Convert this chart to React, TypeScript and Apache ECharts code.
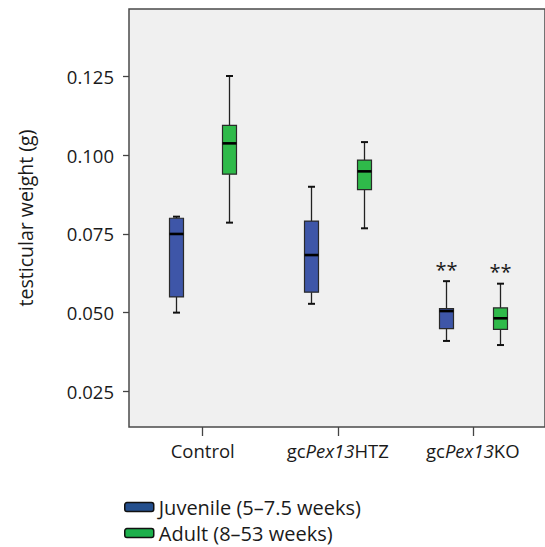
import React, { useEffect, useRef } from 'react';
import * as echarts from 'echarts';

const categories = ['Control', 'gcPex13HTZ', 'gcPex13KO'];
const seriesNames = ['Juvenile (5–7.5 weeks)', 'Adult (8–53 weeks)'];
// [min, Q1, median, Q3, max]
const juvenile = [
  [0.05, 0.055, 0.075, 0.08, 0.0805],
  [0.0528, 0.0565, 0.0683, 0.0791, 0.09],
  [0.041, 0.0449, 0.0505, 0.0513, 0.06],
];
const adult = [
  [0.0786, 0.094, 0.1038, 0.1095, 0.1252],
  [0.0768, 0.0891, 0.0949, 0.0985, 0.1042],
  [0.0397, 0.0447, 0.0482, 0.0515, 0.0592],
];
const juvenileSignificance = ['', '', '**'];
const adultSignificance = ['', '', '**'];
const yTicks = [0.025, 0.05, 0.075, 0.1, 0.125];
const xTicks = [0, 1, 2];

const FONT = '"Open Sans", "Noto Sans", sans-serif';
const TEXT = '#1a1a1a';

function makeRender(offset: number, fill: string, sig: string[]) {
  return (params: any, api: any) => {
    const idx = api.value(0);
    const x = idx + offset;
    const pMin = api.coord([x, api.value(1)]);
    const pQ1 = api.coord([x, api.value(2)]);
    const pMed = api.coord([x, api.value(3)]);
    const pQ3 = api.coord([x, api.value(4)]);
    const pMax = api.coord([x, api.value(5)]);
    const cx = Math.round(pMin[0]) + 0.5;
    const bw = 14;
    const cap = 3.5;
    const wStyle = { stroke: '#222', lineWidth: 1.3 };
    const capStyle = { stroke: '#111', lineWidth: 2 };
    const children: any[] = [
      { type: 'line', shape: { x1: cx, y1: pMax[1], x2: cx, y2: pQ3[1] }, style: wStyle },
      { type: 'line', shape: { x1: cx, y1: pQ1[1], x2: cx, y2: pMin[1] }, style: wStyle },
      { type: 'line', shape: { x1: cx - cap, y1: pMax[1], x2: cx + cap, y2: pMax[1] }, style: capStyle },
      { type: 'line', shape: { x1: cx - cap, y1: pMin[1], x2: cx + cap, y2: pMin[1] }, style: capStyle },
      {
        type: 'rect',
        shape: { x: cx - bw / 2, y: pQ3[1], width: bw, height: pQ1[1] - pQ3[1] },
        style: { fill, stroke: '#2a2a2a', lineWidth: 1.2 },
      },
      {
        type: 'line',
        shape: { x1: cx - bw / 2, y1: pMed[1], x2: cx + bw / 2, y2: pMed[1] },
        style: { stroke: '#000', lineWidth: 2.6 },
      },
    ];
    if (sig[idx]) {
      children.push({
        type: 'text',
        x: cx,
        y: pMax[1] - 12,
        style: {
          text: sig[idx],
          fill: TEXT,
          fontSize: 20,
          fontFamily: FONT,
          align: 'center',
          verticalAlign: 'middle',
        },
      });
    }
    return { type: 'group', children };
  };
}

function catLabel(v: number) {
  const name = categories[Math.round(v)] || '';
  const m = name.match(/^(gc)(Pex13)(.*)$/);
  if (m) return `{n|${m[1]}}{i|${m[2]}}{n|${m[3]}}`;
  return `{n|${name}}`;
}

export default function App() {
  const ref = useRef<HTMLDivElement>(null);
  useEffect(() => {
    if (!ref.current) return;
    const chart = echarts.init(ref.current, undefined, { renderer: 'svg' });
    const option: any = {
      animation: false,
      backgroundColor: '#ffffff',
      grid: {
        left: 129,
        top: 9,
        right: -3,
        bottom: 120,
        show: true,
        backgroundColor: '#f0f0f0',
        borderColor: '#4a4a4a',
        borderWidth: 1.5,
        containLabel: false,
      },
      xAxis: {
        type: 'value',
        min: -0.546,
        max: -0.546 + 419 / 136,
        axisLine: { show: false, onZero: false },
        splitLine: { show: false },
        axisTick: {
          show: true,
          customValues: xTicks,
          length: 9,
          inside: false,
          lineStyle: { color: '#444', width: 1.3 },
        },
        axisLabel: {
          customValues: xTicks,
          margin: 14,
          formatter: catLabel,
          rich: {
            n: { fontSize: 18.5, fontFamily: FONT, color: TEXT },
            i: { fontSize: 18.5, fontFamily: FONT, color: TEXT, fontStyle: 'italic' },
          },
        },
      },
      yAxis: {
        type: 'value',
        min: 0.01365,
        max: 0.1465,
        name: 'testicular weight (g)',
        nameLocation: 'middle',
        nameGap: 94,
        nameTextStyle: { fontSize: 19.5, fontFamily: FONT, color: TEXT },
        axisLine: { show: false, onZero: false },
        splitLine: { show: false },
        axisTick: {
          show: true,
          customValues: yTicks,
          length: 6,
          lineStyle: { color: '#444', width: 1.3 },
        },
        axisLabel: {
          customValues: yTicks,
          margin: 15,
          fontSize: 18.5,
          fontFamily: FONT,
          color: TEXT,
          formatter: (v: number) => v.toFixed(3),
        },
      },
      legend: {
        orient: 'vertical',
        left: 124,
        top: 497,
        padding: 0,
        itemGap: 6,
        itemWidth: 29,
        itemHeight: 9,
        textStyle: { fontSize: 20, fontFamily: FONT, color: TEXT },
        data: [
          {
            name: seriesNames[0],
            icon: 'roundRect',
            itemStyle: { color: '#244f8d', borderColor: '#111', borderWidth: 1.5 },
          },
          {
            name: seriesNames[1],
            icon: 'roundRect',
            itemStyle: { color: '#1db04c', borderColor: '#111', borderWidth: 1.5 },
          },
        ],
      },
      series: [
        {
          name: seriesNames[0],
          type: 'custom',
          itemStyle: { color: '#3e56a8' },
          encode: { x: 0, y: [1, 2, 3, 4, 5] },
          data: juvenile.map((d, i) => [i, ...d]),
          renderItem: makeRender(-0.2, '#3e56a8', juvenileSignificance),
        },
        {
          name: seriesNames[1],
          type: 'custom',
          itemStyle: { color: '#2fba4a' },
          encode: { x: 0, y: [1, 2, 3, 4, 5] },
          data: adult.map((d, i) => [i, ...d]),
          renderItem: makeRender(0.198, '#2fba4a', adultSignificance),
        },
      ],
    };
    chart.setOption(option);
    return () => chart.dispose();
  }, []);
  return (
    <div
      ref={ref}
      style={{ position: 'fixed', left: 0, top: 0, width: 545, height: 547 }}
    />
  );
}
